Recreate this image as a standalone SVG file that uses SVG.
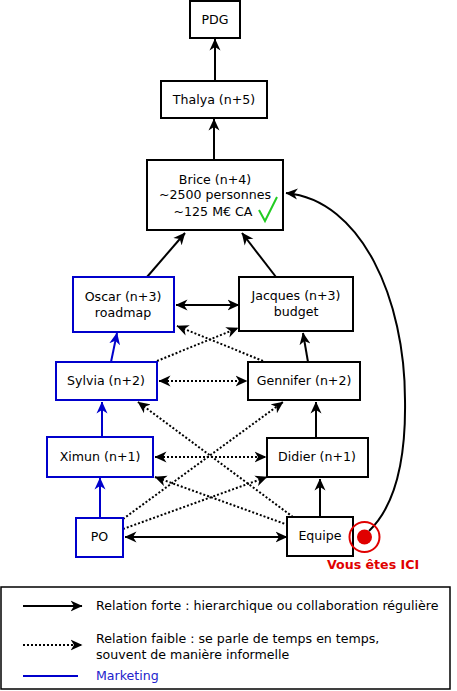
<svg xmlns="http://www.w3.org/2000/svg" width="457" height="691" viewBox="0 0 457 691">
<defs>
<marker id="ah" viewBox="0 0 12 12" refX="11.5" refY="6" markerWidth="12" markerHeight="12" markerUnits="userSpaceOnUse" orient="auto-start-reverse">
<path d="M0,0.5 L12,6 L0,11.5 L3.5,6 z" fill="#000"/>
</marker>
<marker id="ahb" viewBox="0 0 12 12" refX="11.5" refY="6" markerWidth="12" markerHeight="12" markerUnits="userSpaceOnUse" orient="auto-start-reverse">
<path d="M0,0.5 L12,6 L0,11.5 L3.5,6 z" fill="#0000cc"/>
</marker>
<style>
text{font-family:"DejaVu Sans","Liberation Sans",sans-serif;font-size:12.6px;fill:#000;}
.c{text-anchor:middle;}
.box{fill:#fff;stroke:#000;stroke-width:2;}
.bbox{fill:#fff;stroke:#0000cc;stroke-width:2;}
.s{stroke:#000;stroke-width:2;fill:none;marker-end:url(#ah);}
.d{stroke:#000;stroke-width:2;fill:none;stroke-dasharray:2,2;marker-end:url(#ah);}
.bl{stroke:#0000cc;stroke-width:2;fill:none;marker-end:url(#ahb);}
.both{marker-start:url(#ah);}
</style>
</defs>
<rect width="457" height="691" fill="#fff"/>
<g id="connectors">
<line class="s" x1="215" y1="81" x2="215" y2="39"/>
<line class="s" x1="214" y1="160" x2="214" y2="119"/>
<line class="s" x1="147" y1="277" x2="185" y2="233"/>
<line class="s" x1="276" y1="277" x2="242" y2="233"/>
<line class="s both" x1="176" y1="305" x2="239" y2="305"/>
<line class="bl" x1="111" y1="362" x2="117" y2="333"/>
<line class="s" x1="308" y1="362" x2="303" y2="333"/>
<line class="d both" x1="159" y1="381" x2="247" y2="381"/>
<line class="d" x1="157" y1="361" x2="238" y2="328"/>
<line class="d" x1="263" y1="361" x2="177" y2="326"/>
<line class="bl" x1="102" y1="437" x2="102" y2="402"/>
<line class="s" x1="316" y1="438" x2="316" y2="402"/>
<line class="d both" x1="155" y1="457" x2="266" y2="457"/>
<line class="d" x1="123" y1="519" x2="283" y2="402"/>
<line class="d" x1="123" y1="529" x2="267" y2="477"/>
<line class="d" x1="293" y1="517" x2="138" y2="402"/>
<line class="d" x1="288" y1="525" x2="155" y2="477"/>
<line class="bl" x1="100" y1="518" x2="100" y2="478"/>
<line class="s" x1="320" y1="517" x2="320" y2="479"/>
<line class="s both" x1="125" y1="537" x2="287" y2="537"/>
<path class="s" d="M369,531 C396,505 406,460 405,400 C405,300 362,200 286,193"/>
</g>
<g id="PDG"><rect class="box" x="190" y="1" width="50" height="37"/><text class="c" x="215" y="24">PDG</text></g>
<g id="Thalya"><rect class="box" x="161" y="81" width="106" height="37"/><text class="c" x="214" y="104">Thalya (n+5)</text></g>
<g id="Brice"><rect class="box" x="147" y="160" width="136" height="70"/>
<text class="c" x="215" y="184">Brice (n+4)</text>
<text class="c" x="215" y="199">~2500 personnes</text>
<text class="c" x="213" y="216">~125 M€ CA</text>
<path d="M259,210 L265,221 L277,197" fill="none" stroke="#22cc22" stroke-width="2"/></g>
<g id="Oscar"><rect class="bbox" x="73" y="277" width="101" height="55"/><text class="c" x="123" y="301">Oscar (n+3)</text><text class="c" x="123" y="317">roadmap</text></g>
<g id="Jacques"><rect class="box" x="239" y="277" width="114" height="54"/><text class="c" x="296" y="300">Jacques (n+3)</text><text class="c" x="296" y="316">budget</text></g>
<g id="Sylvia"><rect class="bbox" x="56" y="362" width="101" height="38"/><text class="c" x="106" y="385">Sylvia (n+2)</text></g>
<g id="Gennifer"><rect class="box" x="248" y="362" width="112" height="38"/><text class="c" x="304" y="385">Gennifer (n+2)</text></g>
<g id="Ximun"><rect class="bbox" x="47" y="437" width="106" height="40"/><text class="c" x="100" y="461">Ximun (n+1)</text></g>
<g id="Didier"><rect class="box" x="267" y="438" width="101" height="39"/><text class="c" x="317" y="461">Didier (n+1)</text></g>
<g id="PO"><rect class="bbox" x="76" y="518" width="47" height="39"/><text class="c" x="99.5" y="541">PO</text></g>
<g id="Equipe"><rect class="box" x="287" y="517" width="66" height="39"/><text class="c" x="320" y="540">Equipe</text></g>
<g id="ici">
<circle cx="364.5" cy="537" r="15" fill="none" stroke="#e00000" stroke-width="2"/>
<circle cx="364.5" cy="537" r="7.5" fill="#e00000"/>
<text x="327" y="569" style="fill:#e00000;font-weight:bold;">Vous êtes ICI</text>
</g>
<g id="legend">
<rect x="1" y="587" width="449" height="102" fill="#fff" stroke="#000" stroke-width="1.5"/>
<line class="s" x1="23" y1="606" x2="82" y2="606"/>
<text x="96" y="610">Relation forte : hierarchique ou collaboration régulière</text>
<line class="d" x1="23" y1="645" x2="82" y2="645"/>
<text x="96" y="643">Relation faible : se parle de temps en temps,</text>
<text x="96" y="659">souvent de manière informelle</text>
<line x1="23" y1="676" x2="78" y2="676" stroke="#0000cc" stroke-width="2"/>
<text x="96" y="680" style="fill:#2222cc;">Marketing</text>
</g>
</svg>
